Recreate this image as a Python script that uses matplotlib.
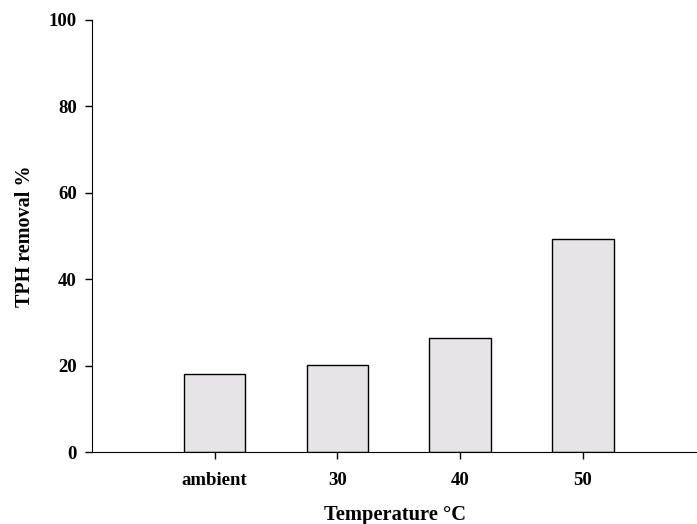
import matplotlib.pyplot as plt

categories = ["ambient", "30", "40", "50"]
tph_removal = [18.0, 20.1, 26.4, 49.4]
positions = [1, 2, 3, 4]

plt.rcParams["font.family"] = ["Liberation Serif", "DejaVu Serif"]
plt.rcParams["font.weight"] = "bold"

fig = plt.figure(figsize=(6.97, 5.24), dpi=100)
ax = fig.add_axes([0.132, 0.137, 0.868, 0.825])

ax.bar(positions, tph_removal, width=0.5, color="#e6e4e6",
       edgecolor="black", linewidth=1.0)

ax.set_xlim(0, 4.93)
ax.set_ylim(0, 100)
ax.set_xticks(positions)
ax.set_xticklabels(categories)
ax.set_yticks([0, 20, 40, 60, 80, 100])
ax.spines["top"].set_visible(False)
ax.spines["right"].set_visible(False)
ax.tick_params(direction="out", length=5, width=1, labelsize=13.5)
ax.tick_params(axis="x", pad=9)
ax.tick_params(axis="y", pad=6)

ax.set_xlabel("Temperature \u00b0C", fontsize=14.8, fontweight="bold", labelpad=12)
ax.set_ylabel("TPH removal %", fontsize=14.5, fontweight="bold", labelpad=10)

fig.savefig("out.png", dpi=100)
